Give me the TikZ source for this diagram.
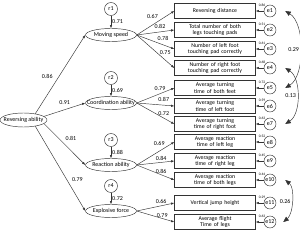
\documentclass[tikz,border=0pt]{standalone}
\usepackage{fontspec}
\setmainfont{Carlito}
\usetikzlibrary{arrows.meta,positioning,calc,shapes.geometric}
\definecolor{ink}{HTML}{333333}
\newcommand{\fsz}[1]{\fontsize{#1}{#1}\selectfont}

\begin{document}
\begin{tikzpicture}[x=1pt, y=-1pt,
  font=\fsz{6}, >={Latex[length=3.2pt,width=2.4pt]},
  obs/.style={draw=ink, line width=0.45pt, minimum width=81pt, minimum height=15pt, text width=79pt, align=center, inner sep=0pt, font=\fontsize{5.8}{6.6}\selectfont},
  lat/.style={ellipse, draw=ink, line width=0.45pt, minimum width=51pt, minimum height=13pt, inner sep=0pt,
    execute at begin node={\hbox to 0pt\bgroup\hss}, execute at end node={\hss\egroup}},
  res/.style={circle, draw=ink, line width=0.45pt, minimum size=12pt, inner sep=0pt},
  pw/.style={->, draw=ink, line width=0.45pt},
  cv/.style={>={Triangle[length=5.5pt,width=4.6pt]}, <->, draw=ink, line width=0.45pt},
  lbl/.style={font=\fsz{6}, inner sep=1pt},
  num/.style={font=\fsz{3.6}, inner sep=0.2pt}]
\useasboundingbox (0,0) rectangle (300,232);
% latent factors
\node[lat, minimum width=47pt, minimum height=14pt] (ra) at (23.5,120) {Reversing ability};
\node[lat] (ms) at (111,35) {Moving speed};
\node[lat] (ca) at (111,103) {Coordination ability};
\node[lat] (rb) at (111,165) {Reaction ability};
\node[lat] (ef) at (111,211) {Explosive force};
\node[res, minimum size=13pt] (r1) at (111,9) {r1};
\node[res, minimum size=13pt] (r2) at (111,78) {r2};
\node[res, minimum size=13pt] (r3) at (111,140) {r3};
\node[res, minimum size=13pt] (r4) at (111,186) {r4};
% indicators
\node[obs] (o1) at (215,11) {Reversing distance};
\node[obs] (o2) at (215,30) {Total number of both\\legs touching pads};
\node[obs] (o3) at (215,49) {Number of left foot\\touching pad correctly};
\node[obs] (o4) at (215,68) {Number of right foot\\touching pad correctly};
\node[obs] (o5) at (215,88) {Average turning\\time of both feet};
\node[obs] (o6) at (215,106) {Average turning\\time of left foot};
\node[obs] (o7) at (215,124) {Average turning\\time of right foot};
\node[obs] (o8) at (215,142) {Average reaction\\time of left leg};
\node[obs] (o9) at (215,161) {Average reaction\\time of right leg};
\node[obs] (o10) at (215,180) {Average reaction\\time of both legs};
\node[obs] (o11) at (215,203) {Vertical jump height};
\node[obs] (o12) at (215,222) {Average flight\\Time of legs};
% error terms
\node[res, label={[num]above left:0.86}] (e1) at (270,11) {e1};
\node[res, label={[num]above left:0.51}] (e2) at (270,30) {e2};
\node[res, label={[num]above left:0.61}] (e3) at (270,49) {e3};
\node[res, label={[num]above left:0.68}] (e4) at (270,68) {e4};
\node[res, label={[num]above left:0.72}] (e5) at (270,88) {e5};
\node[res, label={[num]above left:0.59}] (e6) at (270,106) {e6};
\node[res, label={[num]above left:0.63}] (e7) at (270,124) {e7};
\node[res, label={[num]above left:0.52}] (e8) at (270,142) {e8};
\node[res, label={[num]above left:0.45}] (e9) at (270,161) {e9};
\node[res, label={[num]above left:0.44}] (e10) at (270,180) {e10};
\node[res, label={[num]above left:0.29}] (e11) at (270,203) {e11};
\node[res, label={[num]above left:0.63}] (e12) at (270,222) {e12};
% structural paths
\draw[pw] (ra.28) -- node[lbl, left=5pt, pos=.47] {0.86} (ms.west);
\draw[pw] (ra.10) -- node[lbl, above=4pt, pos=.5] {0.91} (ca.west);
\draw[pw] (ra.-10) -- node[lbl, right=5pt, pos=.37] {0.81} (rb.west);
\draw[pw] (ra.-28) -- node[lbl, right=4pt, pos=.63] {0.79} (ef.west);
\draw[pw] (r1) -- node[lbl, right] {0.71} (ms);
\draw[pw] (r2) -- node[lbl, right] {0.69} (ca);
\draw[pw] (r3) -- node[lbl, right] {0.88} (rb);
\draw[pw] (r4) -- node[lbl, right] {0.72} (ef);
% loadings
\draw[pw] (ms.east) -- node[lbl, above=5pt, pos=.42] {0.67} (o1.west);
\draw[pw] (ms.east) -- node[lbl, above=2pt, pos=.62] {0.82} (o2.west);
\draw[pw] (ms.east) -- node[lbl, above=3pt, pos=.7] {0.78} (o3.west);
\draw[pw] (ms.east) -- node[lbl, above=4pt, pos=.76] {0.75} (o4.west);
\draw[pw] (ca.east) -- node[lbl, above=2pt, pos=.62] {0.79} (o5.west);
\draw[pw] (ca.east) -- node[lbl, above=2pt, pos=.72] {0.87} (o6.west);
\draw[pw] (ca.east) -- node[lbl, above=1pt, pos=.72] {0.72} (o7.west);
\draw[pw] (rb.east) -- node[lbl, above=4pt, pos=.6] {0.69} (o8.west);
\draw[pw] (rb.east) -- node[lbl, above=1pt, pos=.65] {0.84} (o9.west);
\draw[pw] (rb.east) -- node[lbl, above=0pt, pos=.65] {0.86} (o10.west);
\draw[pw] (ef.east) -- node[lbl, above=1pt, pos=.65] {0.66} (o11.west);
\draw[pw] (ef.east) -- node[lbl, above=0pt, pos=.68] {0.79} (o12.west);
% residuals
\foreach \i in {1,...,12} {\draw[pw] (e\i) -- (o\i.east);}
% correlated errors
\draw[cv] ([xshift=9pt]e1.east) .. controls +(20,12) and +(20,-12) .. node[lbl, left] {0.29} ([xshift=9pt]e5.east);
\draw[cv] ([xshift=9pt]e4.east) .. controls +(16,10) and +(16,-10) .. node[lbl, left] {0.13} ([xshift=9pt]e7.east);
\draw[cv] ([xshift=9pt]e10.east) .. controls +(10,8) and +(10,-8) .. node[lbl, left] {0.26} ([xshift=7pt]e12.east);
\end{tikzpicture}
\end{document}
